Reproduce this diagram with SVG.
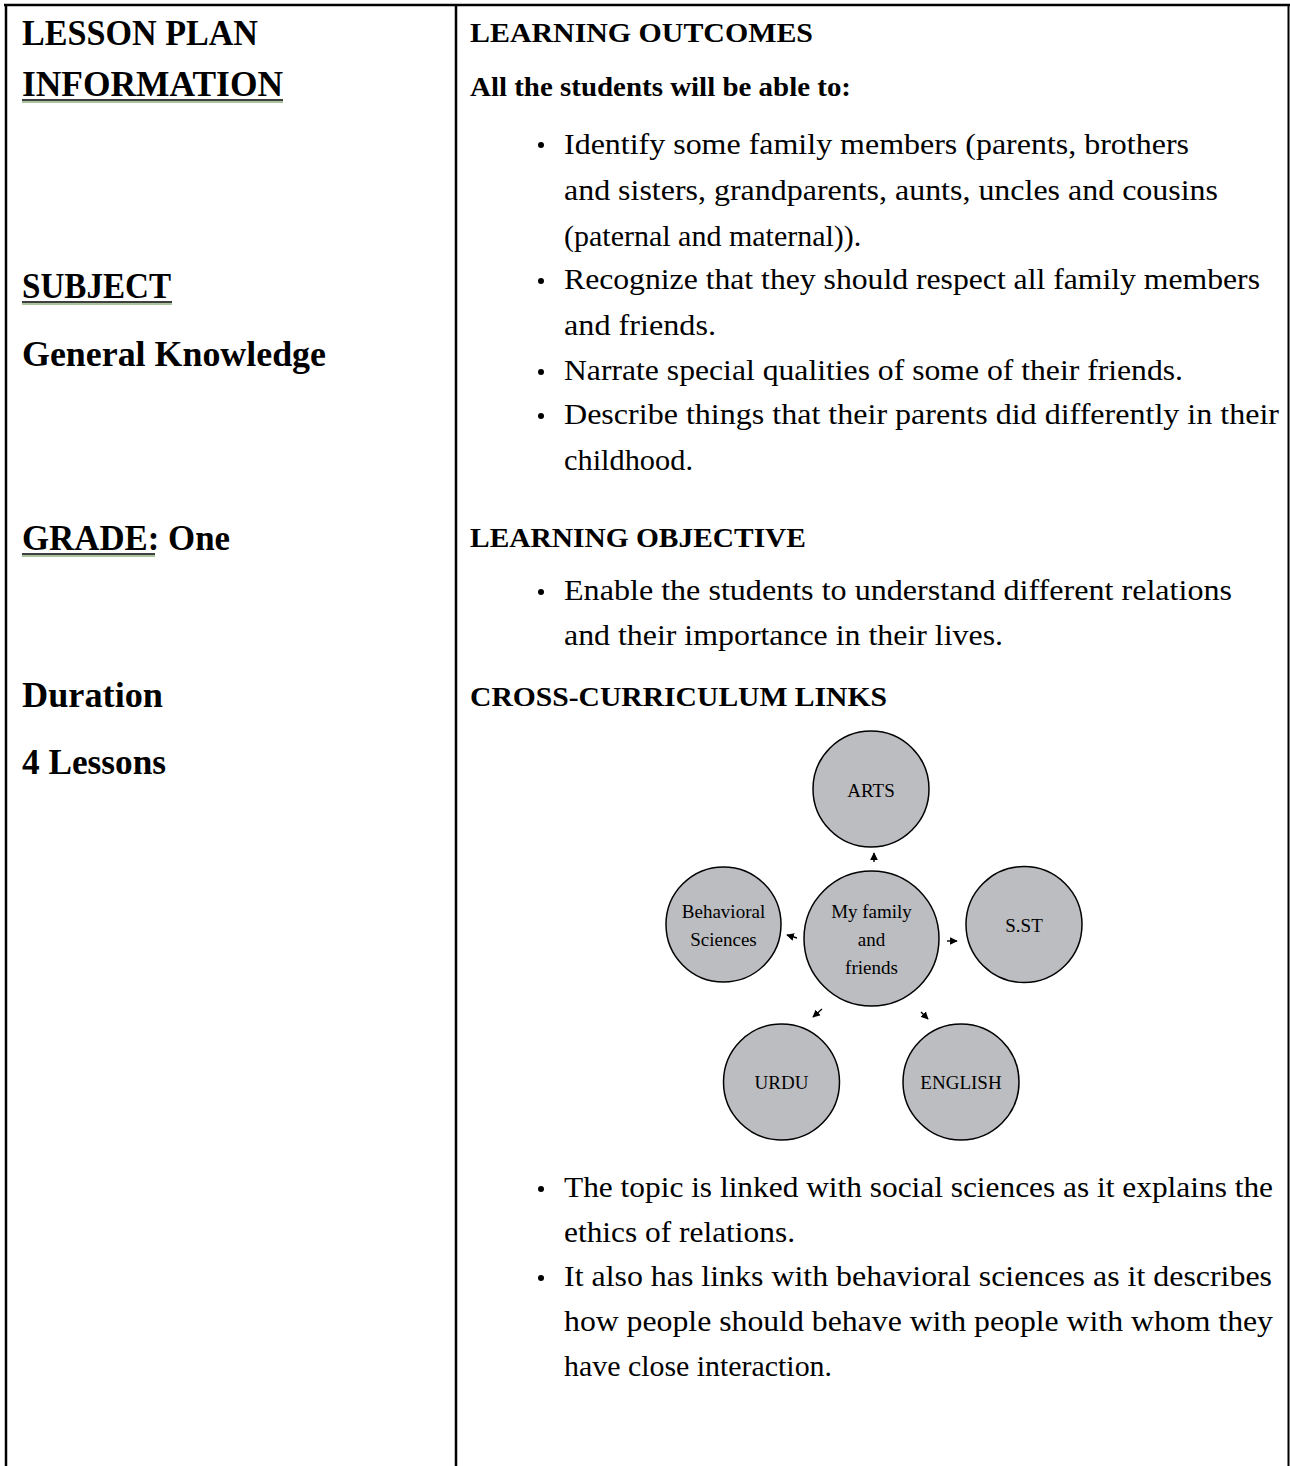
<svg xmlns="http://www.w3.org/2000/svg" width="1290" height="1466" viewBox="0 0 1290 1466">
<defs>
<style>
text{font-family:"Liberation Serif","Times New Roman",serif;fill:#000}
.h1{font-size:36px;font-weight:bold}
.h2{font-size:28px;font-weight:bold}
.b{font-size:30px}
.c{font-size:19px;text-anchor:middle}
.node circle{fill:#bcbdc0;stroke:#000;stroke-width:1.5}
.ul{stroke:#000;stroke-width:1.6}
.ulg{stroke:#5b8a3c;stroke-width:1}
.conn line{stroke:#000;stroke-width:1.4}
</style>
<marker id="ah" viewBox="0 0 10 10" refX="9" refY="5" markerWidth="5.5" markerHeight="5.5" orient="auto">
<path d="M0,0 L10,5 L0,10 z" fill="#000"/>
</marker>
</defs>
<rect width="1290" height="1466" fill="#fff"/>
<g id="table" fill="none" stroke="#000">
<line x1="4" y1="5" x2="1290" y2="5" stroke-width="2.5"/>
<line x1="6" y1="4" x2="6" y2="1466" stroke-width="2.5"/>
<line x1="456" y1="4" x2="456" y2="1466" stroke-width="2.5"/>
<line x1="1288.5" y1="4" x2="1288.5" y2="1466" stroke-width="2"/>
</g>
<g id="left-col">
<text class="h1" x="22" y="45" textLength="236" lengthAdjust="spacingAndGlyphs">LESSON PLAN</text>
<text class="h1" x="22" y="96" textLength="261" lengthAdjust="spacingAndGlyphs">INFORMATION</text>
<line class="ul" x1="22" y1="100" x2="283" y2="100"/>
<line class="ulg" x1="22" y1="102" x2="283" y2="102"/>
<text class="h1" x="22" y="298" textLength="149" lengthAdjust="spacingAndGlyphs">SUBJECT</text>
<line class="ul" x1="22" y1="302" x2="172" y2="302"/>
<line class="ulg" x1="22" y1="304" x2="172" y2="304"/>
<text class="h1" x="22" y="366" textLength="304" lengthAdjust="spacingAndGlyphs">General Knowledge</text>
<text class="h1" x="22" y="550" textLength="208" lengthAdjust="spacingAndGlyphs">GRADE: One</text>
<line class="ul" x1="22" y1="554" x2="155" y2="554"/>
<line class="ulg" x1="22" y1="556" x2="155" y2="556"/>
<text class="h1" x="22" y="707" textLength="141" lengthAdjust="spacingAndGlyphs">Duration</text>
<text class="h1" x="22" y="774" textLength="144" lengthAdjust="spacingAndGlyphs">4 Lessons</text>
</g>
<g id="outcomes">
<text class="h2" x="470" y="42" textLength="343" lengthAdjust="spacingAndGlyphs">LEARNING OUTCOMES</text>
<text class="h2" x="470" y="96" textLength="381" lengthAdjust="spacingAndGlyphs">All the students will be able to:</text>
<circle cx="541" cy="145" r="3"/>
<text class="b" x="564" y="154" textLength="625" lengthAdjust="spacingAndGlyphs">Identify some family members (parents, brothers</text>
<text class="b" x="564" y="200" textLength="654" lengthAdjust="spacingAndGlyphs">and sisters, grandparents, aunts, uncles and cousins</text>
<text class="b" x="564" y="246">(paternal and maternal)).</text>
<circle cx="541" cy="281" r="3"/>
<text class="b" x="564" y="289" textLength="696" lengthAdjust="spacingAndGlyphs">Recognize that they should respect all family members</text>
<text class="b" x="564" y="335" textLength="152" lengthAdjust="spacingAndGlyphs">and friends.</text>
<circle cx="541" cy="372" r="3"/>
<text class="b" x="564" y="380" textLength="619" lengthAdjust="spacingAndGlyphs">Narrate special qualities of some of their friends.</text>
<circle cx="541" cy="416" r="3"/>
<text class="b" x="564" y="424" textLength="715" lengthAdjust="spacingAndGlyphs">Describe things that their parents did differently in their</text>
<text class="b" x="564" y="470" textLength="129" lengthAdjust="spacingAndGlyphs">childhood.</text>
</g>
<g id="objective">
<text class="h2" x="470" y="547" textLength="336" lengthAdjust="spacingAndGlyphs">LEARNING OBJECTIVE</text>
<circle cx="541" cy="592" r="3"/>
<text class="b" x="564" y="600" textLength="668" lengthAdjust="spacingAndGlyphs">Enable the students to understand different relations</text>
<text class="b" x="564" y="645" textLength="439" lengthAdjust="spacingAndGlyphs">and their importance in their lives.</text>
</g>
<g id="cross">
<text class="h2" x="470" y="706" textLength="417" lengthAdjust="spacingAndGlyphs">CROSS-CURRICULUM LINKS</text>
</g>
<g id="n-arts" class="node"><circle cx="871" cy="789" r="58"/><text class="c" x="871" y="797">ARTS</text></g>
<g id="n-beh" class="node"><circle cx="723.5" cy="924.5" r="57.5"/><text class="c" x="723.5" y="918">Behavioral</text><text class="c" x="723.5" y="946">Sciences</text></g>
<g id="n-center" class="node"><circle cx="871.5" cy="938.5" r="67.5"/><text class="c" x="871.5" y="918">My family</text><text class="c" x="871.5" y="946">and</text><text class="c" x="871.5" y="974">friends</text></g>
<g id="n-sst" class="node"><circle cx="1024" cy="924.5" r="58"/><text class="c" x="1024" y="932">S.ST</text></g>
<g id="n-urdu" class="node"><circle cx="781.5" cy="1082" r="58"/><text class="c" x="781.5" y="1089">URDU</text></g>
<g id="n-eng" class="node"><circle cx="961" cy="1082" r="58"/><text class="c" x="961" y="1089">ENGLISH</text></g>
<g id="connectors" class="conn">
<line x1="874" y1="862" x2="874" y2="853" marker-end="url(#ah)"/>
<line x1="797" y1="938" x2="787" y2="935" marker-end="url(#ah)"/>
<line x1="947" y1="941" x2="957" y2="941" marker-end="url(#ah)"/>
<line x1="822" y1="1009" x2="813" y2="1017" marker-end="url(#ah)"/>
<line x1="921" y1="1012" x2="928" y2="1019" marker-end="url(#ah)"/>
</g>
<g id="links">
<circle cx="541" cy="1189" r="3"/>
<text class="b" x="564" y="1197" textLength="709" lengthAdjust="spacingAndGlyphs">The topic is linked with social sciences as it explains the</text>
<text class="b" x="564" y="1242" textLength="231" lengthAdjust="spacingAndGlyphs">ethics of relations.</text>
<circle cx="541" cy="1278" r="3"/>
<text class="b" x="564" y="1286" textLength="708" lengthAdjust="spacingAndGlyphs">It also has links with behavioral sciences as it describes</text>
<text class="b" x="564" y="1331" textLength="709" lengthAdjust="spacingAndGlyphs">how people should behave with people with whom they</text>
<text class="b" x="564" y="1376" textLength="268" lengthAdjust="spacingAndGlyphs">have close interaction.</text>
</g>
</svg>
